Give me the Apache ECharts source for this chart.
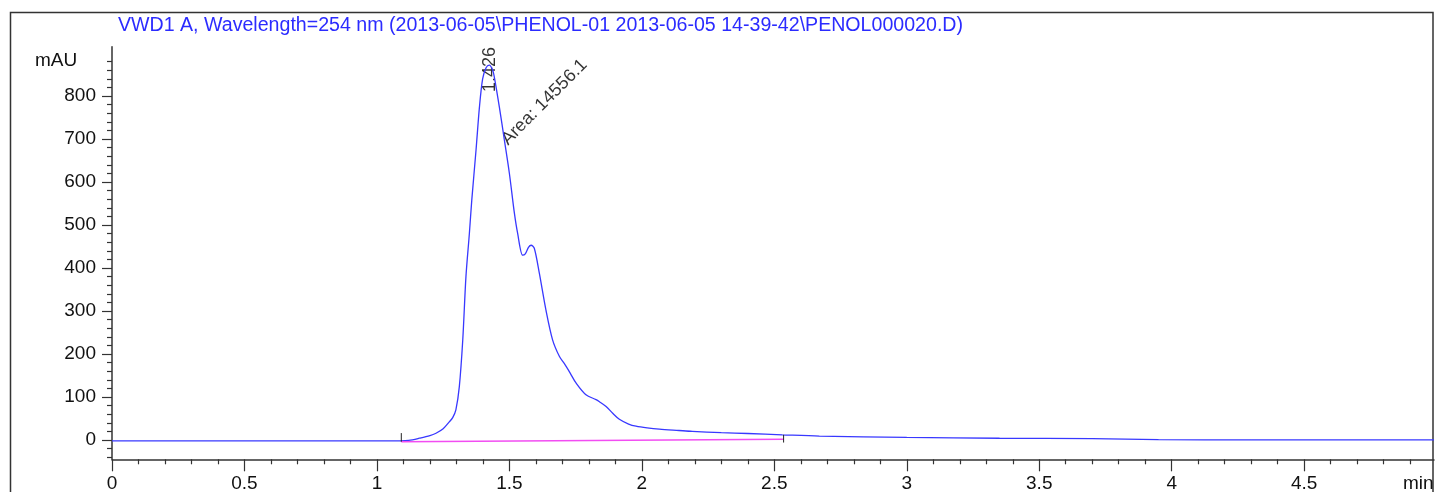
<!DOCTYPE html>
<html><head><meta charset="utf-8">
<script src="https://cdn.jsdelivr.net/npm/echarts@6/dist/echarts.min.js"></script>
<style>html,body{margin:0;padding:0;background:#fff}#c{width:1435px;height:492px}</style>
</head><body><div id="c"></div>
<script>
// ---- data ----
const titleText = 'VWD1 A, Wavelength=254 nm (2013-06-05\\PHENOL-01 2013-06-05 14-39-42\\PENOL000020.D)';
const yUnit = 'mAU';
const xUnit = 'min';
const times = [0, 1.0, 1.09, 1.12, 1.16, 1.2, 1.223, 1.25, 1.273, 1.286, 1.298, 1.311, 1.324, 1.336, 1.349, 1.358,
  1.374, 1.387, 1.399, 1.412, 1.424, 1.436, 1.443, 1.462, 1.481, 1.5, 1.519, 1.531, 1.55, 1.56, 1.572, 1.582,
  1.594, 1.613, 1.638, 1.663, 1.689, 1.707, 1.73, 1.752, 1.789, 1.827, 1.84, 1.865, 1.89, 1.915, 1.95, 1.978,
  2.02, 2.066, 2.14, 2.19, 2.3, 2.4, 2.53, 2.67, 3.0, 3.35, 3.7, 3.95, 4.3, 4.99];
const signal = [-2, -2, -2, -1, 4, 10, 15.6, 26, 42, 52, 70, 124, 233, 380, 481, 558,
  674, 775, 840, 866, 872, 862, 845, 775, 698, 620, 527, 481, 430, 433, 448, 453,
  446, 388, 302, 233, 194, 178, 155, 132, 105, 94, 89, 78, 62, 48, 37, 32,
  28, 25, 22, 20, 17, 15, 12, 9, 6, 4, 3, 1, 0, 0];
const baselineTimes = [1.092, 2.535];
const baselineValues = [-4, 1.5];
const startTickValues = [-4, 16];
const endTickValues = [12, -6];
const peakTime = 1.426;
const peakArea = 14556.1;
const xTickLabels = [0, 0.5, 1, 1.5, 2, 2.5, 3, 3.5, 4, 4.5];
const yTickLabels = [0, 100, 200, 300, 400, 500, 600, 700, 800];

// ---- derived ----
const xMinor = [];
for (let i = 1; i < 50; i++) { if (i % 5) xMinor.push(i / 10); }
const yMinor = [];
for (let v = -40; v <= 900; v += 20) { if (v % 100) yMinor.push(v); }
const FONT = "'Liberation Sans', Arial, sans-serif";
const X_MIN = 0, X_MAX = 4.99, Y_MIN = -45, Y_MAX = 915;

const chart = echarts.init(document.getElementById('c'), null, {renderer: 'canvas'});
const axisCol = '#333';
const textCol = '#111';

chart.setOption({
  animation: false,
  backgroundColor: '#fff',
  title: {
    text: titleText, left: 113, top: 11,
    textStyle: {color: '#2b2bff', fontSize: 19.6, fontWeight: 'normal', fontFamily: FONT}
  },
  grid: {left: 112, right: 1, top: 46.7, bottom: 32.7, containLabel: false, outerBoundsMode: 'none'},
  xAxis: [{
    type: 'value', min: X_MIN, max: X_MAX,
    axisLine: {show: true, onZero: false, lineStyle: {color: axisCol, width: 1.5}},
    axisTick: {show: true, length: 12, customValues: xTickLabels, lineStyle: {color: axisCol, width: 1.2}},
    axisLabel: {customValues: xTickLabels, margin: 15, color: textCol, fontSize: 19, fontFamily: FONT},
    splitLine: {show: false}
  }, {
    type: 'value', min: X_MIN, max: X_MAX, position: 'bottom',
    axisLine: {show: false, onZero: false},
    axisTick: {show: true, length: 5, customValues: xMinor, lineStyle: {color: axisCol, width: 1.2}},
    axisLabel: {show: false},
    splitLine: {show: false}
  }],
  yAxis: [{
    type: 'value', min: Y_MIN, max: Y_MAX,
    axisLine: {show: true, onZero: false, lineStyle: {color: axisCol, width: 1.5}},
    axisTick: {show: true, length: 10, customValues: yTickLabels, lineStyle: {color: axisCol, width: 1.2}},
    axisLabel: {customValues: yTickLabels, margin: 16, color: textCol, fontSize: 19, fontFamily: FONT},
    splitLine: {show: false}
  }, {
    type: 'value', min: Y_MIN, max: Y_MAX, position: 'left',
    axisLine: {show: false, onZero: false},
    axisTick: {show: true, length: 5, customValues: yMinor, lineStyle: {color: axisCol, width: 1.2}},
    axisLabel: {show: false},
    splitLine: {show: false}
  }],
  series: [{
    name: 'signal', type: 'line', xAxisIndex: 0, yAxisIndex: 0,
    data: times.map((t, i) => [t, signal[i]]),
    showSymbol: false, smooth: 0.3,
    lineStyle: {color: '#3838ff', width: 1.3}
  }, {
    name: 'baseline', type: 'line',
    data: baselineTimes.map((t, i) => [t, baselineValues[i]]),
    showSymbol: false, lineStyle: {color: '#f24df2', width: 1.6}
  }, {
    name: 'start', type: 'line',
    data: startTickValues.map(v => [baselineTimes[0], v]),
    showSymbol: false, lineStyle: {color: '#222', width: 1}
  }, {
    name: 'end', type: 'line',
    data: endTickValues.map(v => [baselineTimes[1], v]),
    showSymbol: false, lineStyle: {color: '#222', width: 1}
  }, {
    name: 'labels', type: 'scatter', symbolSize: 1, silent: true,
    itemStyle: {color: 'rgba(0,0,0,0)'},
    data: [
      {value: [peakTime, 862], label: {formatter: String(peakTime), rotate: 90}},
      {value: [1.632, 786], label: {formatter: 'Area: ' + peakArea.toFixed(1), rotate: 45}}
    ],
    label: {show: true, position: 'inside', align: 'center', verticalAlign: 'middle',
      color: '#000', fontSize: 18, fontFamily: FONT}
  }],
  graphic: [
    {type: 'rect', silent: true, shape: {x: 10.5, y: 12.5, width: 1422.5, height: 520},
      style: {fill: 'none', stroke: '#333', lineWidth: 1.5}},
    {type: 'text', left: 35, top: 51, style: {text: yUnit, fontSize: 19, fontFamily: FONT, fill: textCol}},
    {type: 'text', left: 1403, top: 474, style: {text: xUnit, fontSize: 19, fontFamily: FONT, fill: textCol}}
  ]
});
</script>
</body></html>
